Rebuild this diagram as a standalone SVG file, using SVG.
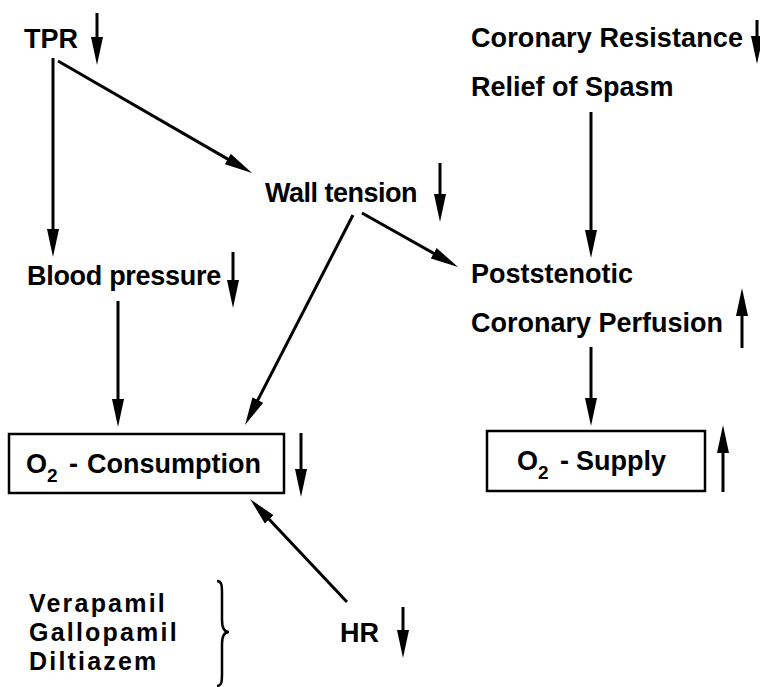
<svg xmlns="http://www.w3.org/2000/svg" width="760" height="687" viewBox="0 0 760 687">
  <defs>
    <marker id="ah" markerUnits="userSpaceOnUse" markerWidth="28" markerHeight="13" viewBox="0 0 28 13" refX="18" refY="6.5" orient="auto">
      <path d="M0,0.5 L28,6.5 L0,12.5 Z" fill="#000"/>
    </marker>
    <style>
      text { font-family: "Liberation Sans", Arial, sans-serif; font-weight: bold; font-size: 27px; fill: #000; }
      .sm { font-size: 25px; letter-spacing: 2.2px; }
      .sub { font-size: 19px; }
      .ln { stroke: #000; stroke-width: 3; fill: none; marker-end: url(#ah); }
      .box { fill: #fff; stroke: #000; stroke-width: 2.5; }
      .brace { stroke: #000; stroke-width: 2.5; fill: none; }
    </style>
  </defs>
  <rect width="760" height="687" fill="#fff"/>

  <g id="connectors">
    <line class="ln" x1="53" y1="58" x2="53" y2="247"/>
    <line class="ln" x1="58" y1="61" x2="243.4" y2="168.1"/>
    <line class="ln" x1="362" y1="213" x2="449.3" y2="262.1"/>
    <line class="ln" x1="353" y1="215" x2="249.6" y2="416.1"/>
    <line class="ln" x1="118" y1="301" x2="118" y2="417"/>
    <line class="ln" x1="591" y1="112" x2="591" y2="248"/>
    <line class="ln" x1="591" y1="347" x2="591" y2="416"/>
    <line class="ln" x1="347" y1="602" x2="256.9" y2="506.3"/>
  </g>

  <g id="tpr">
    <text x="24" y="48">TPR</text>
    <line class="ln" x1="97" y1="13" x2="97" y2="55"/>
  </g>

  <g id="coronary-resistance">
    <text x="471" y="47" style="letter-spacing:0.1px">Coronary Resistance</text>
    <line class="ln" x1="757" y1="20" x2="757" y2="54"/>
  </g>

  <g id="relief-of-spasm">
    <text x="471" y="96">Relief of Spasm</text>
  </g>

  <g id="wall-tension">
    <text x="265" y="202" style="letter-spacing:-0.5px">Wall tension</text>
    <line class="ln" x1="440" y1="163" x2="440" y2="212"/>
  </g>

  <g id="blood-pressure">
    <text x="27" y="285" style="letter-spacing:-0.3px">Blood pressure</text>
    <line class="ln" x1="233" y1="252" x2="233" y2="298"/>
  </g>

  <g id="poststenotic-perfusion">
    <text x="471" y="283">Poststenotic</text>
    <text x="471" y="332">Coronary Perfusion</text>
    <line class="ln" x1="742" y1="348" x2="742" y2="298"/>
  </g>

  <g id="o2-consumption">
    <rect class="box" x="9" y="434" width="275" height="59"/>
    <text x="26" y="473">O<tspan class="sub" dy="9">2</tspan><tspan x="69" dy="-9">-</tspan><tspan x="87">Consumption</tspan></text>
    <line class="ln" x1="301" y1="433" x2="301" y2="487"/>
  </g>

  <g id="o2-supply">
    <rect class="box" x="487" y="431" width="218" height="60"/>
    <text x="517" y="470">O<tspan class="sub" dy="9">2</tspan><tspan x="560" dy="-9">-</tspan><tspan x="576">Supply</tspan></text>
    <line class="ln" x1="723" y1="492" x2="723" y2="435"/>
  </g>

  <g id="hr">
    <text x="340" y="642">HR</text>
    <line class="ln" x1="403" y1="607" x2="403" y2="648"/>
  </g>

  <g id="drugs">
    <text class="sm" x="29" y="612">Verapamil</text>
    <text class="sm" x="29" y="641">Gallopamil</text>
    <text class="sm" x="29" y="670">Diltiazem</text>
    <path class="brace" d="M217,581 C222,581 222,586 222,594 L222,620 C222,628 224,632 229,632 C224,632 222,636 222,644 L222,673 C222,681 222,686 217,686"/>
  </g>
</svg>
